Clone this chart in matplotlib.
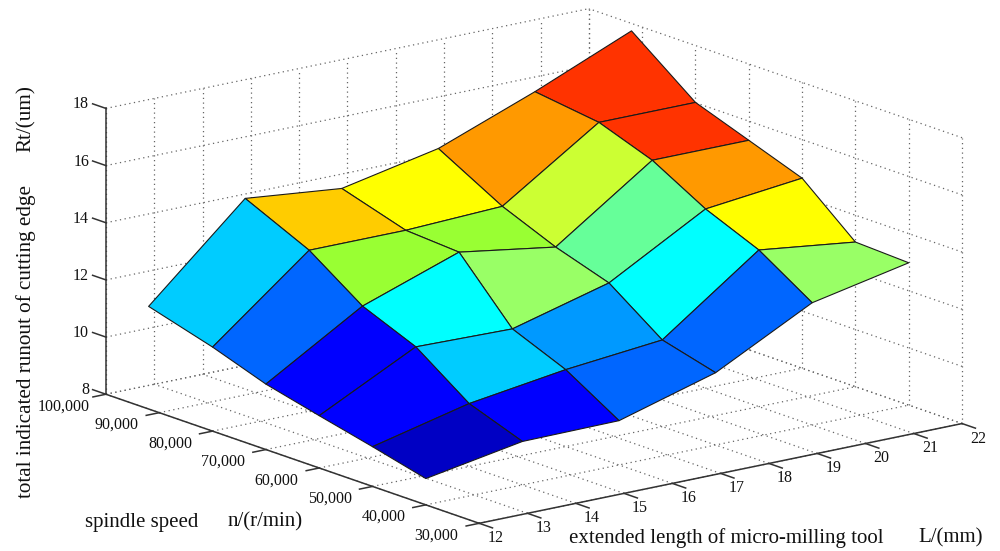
import numpy as np
import matplotlib
matplotlib.use('Agg')
from matplotlib import pyplot as plt
from matplotlib.colors import ListedColormap

# extended length of tool (mm) and spindle speed (r/min), surface grid
L_grid = [12, 14, 16, 18, 20, 22]
n_grid = [40000, 50000, 60000, 70000, 80000, 92000]

# runout, one row per spindle speed
Rt = [
    [8.92, 9.52, 9.55, 10.53, 12.28, 12.98],
    [9.39, 10.20, 10.69, 11.03, 13.48, 13.06],
    [9.83, 11.54, 11.47, 12.38, 14.27, 14.65],
    [10.29, 12.32, 13.51, 12.99, 15.33, 15.33],
    [10.94, 13.63, 13.63, 13.77, 16.01, 16.01],
    [11.59, 14.67, 14.32, 15.02, 16.31, 17.74],
]

# colour level of each flat cell
cell_level = [
    [0, 1, 2, 2, 7],
    [1, 4, 3, 5, 10],
    [1, 5, 7, 6, 12],
    [2, 8, 8, 9, 13],
    [4, 11, 10, 12, 13],
]
palette = ['#0000C4', '#0000FF', '#0066FF', '#0099FF', '#00CCFF', '#00FFFF', '#66FF99',
           '#99FF66', '#99FF33', '#CCFF33', '#FFFF00', '#FFCC00', '#FF9900', '#FF3300']

L_ticks = [12, 13, 14, 15, 16, 17, 18, 19, 20, 21, 22]
n_ticks = [30000, 40000, 50000, 60000, 70000, 80000, 90000, 100000]
z_ticks = [8, 10, 12, 14, 16, 18]

plt.rcParams['font.family'] = ['Liberation Serif', 'DejaVu Serif']

fig = plt.figure(figsize=(10, 5.51), dpi=100)
# square axes wider than the figure height, so nothing gets clipped
ax = fig.add_axes([0.0205, -228.5 / 551, 1, 1000 / 551], projection='3d', proj_type='ortho', computed_zorder=False)
ax.view_init(elev=15.5, azim=232.3)
ax.set_box_aspect((1, 1, 0.486), zoom=0.886)
ax.set_axis_off()
ax.set_xlim(12, 22)
ax.set_ylim(30000, 100000)
ax.set_zlim(8, 18)

grid = dict(color='#666666', linestyle=(0, (1, 2.8)), linewidth=0.9, zorder=1)
solid = dict(color='#333333', linewidth=1.1, zorder=1.5)

# dotted grid on the floor and the two back walls
for L in L_ticks:
    ax.plot([L, L], [30000, 100000], [8, 8], **grid)
    ax.plot([L, L], [100000, 100000], [8, 18], **grid)
for n in n_ticks:
    ax.plot([12, 22], [n, n], [8, 8], **grid)
    ax.plot([22, 22], [n, n], [8, 18], **grid)
for z in z_ticks:
    ax.plot([12, 22], [100000, 100000], [z, z], **grid)
    ax.plot([22, 22], [30000, 100000], [z, z], **grid)

# axis lines, ticks and tick labels
ax.plot([12, 12], [100000, 100000], [8, 18], **solid)
ax.plot([12, 12], [30000, 100000], [8, 8], **solid)
ax.plot([12, 22], [30000, 30000], [8, 8], **solid)
for z in z_ticks:
    ax.plot([12, 12], [100000, 102500], [z, z], **solid)
    ax.text(12 - 0.35, 100000, z + 0.26, str(z), ha='right', va='center', fontsize=11.5, color='#111111')
for n in n_ticks:
    ax.plot([11.73, 12], [n, n], [8, 8], **solid)
    ax.text(12 - 0.88, n, 8 - 0.12, f'{n:,}', ha='center', va='center', fontsize=11.5, color='#111111')
for L in L_ticks:
    ax.plot([L, L], [27500, 30000], [8, 8], **solid)
    ax.text(L, 30000 - 3000, 8 - 0.33, str(L), ha='center', va='center', fontsize=11.5, color='#111111')

# surface
X, Y = np.meshgrid(L_grid, n_grid)
Z = np.array(Rt)
cmap = ListedColormap(palette)
ax.plot_surface(X, Y, Z, facecolors=cmap(np.array(cell_level)), shade=False,
                rstride=1, cstride=1, edgecolor='#1a1a1a', linewidth=0.8, zorder=2)

# axis titles
fig.text(0.026, 1 - 342 / 551, 'total indicated runout of cutting edge', rotation=90,
         ha='center', va='center', fontsize=15.2, color='#111111')
fig.text(0.026, 1 - 119 / 551, 'Rt/(um)', rotation=90, ha='center', va='center', fontsize=15.2, color='#111111')
fig.text(0.085, 1 - 522 / 551, 'spindle speed', ha='left', va='center', fontsize=15, color='#111111')
fig.text(0.228, 1 - 522 / 551, 'n/(r/min)', ha='left', va='center', fontsize=15, color='#111111')
fig.text(0.569, 1 - 538 / 551, 'extended length of micro-milling tool', ha='left', va='center', fontsize=15, color='#111111')
fig.text(0.918, 1 - 538 / 551, 'L/(mm)', ha='left', va='center', fontsize=15, color='#111111')

fig.savefig('out.png', dpi=100)
